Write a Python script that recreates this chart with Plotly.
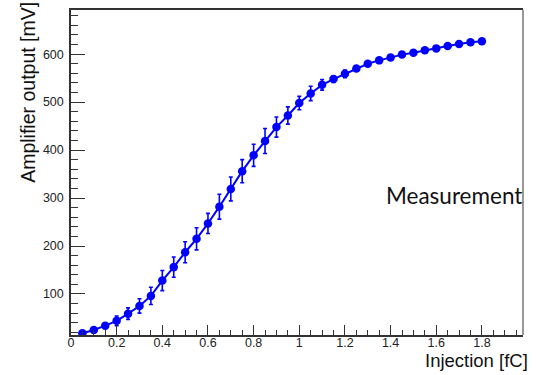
import plotly.graph_objects as go

injection_fc = [0.05, 0.10, 0.15, 0.20, 0.25, 0.30, 0.35, 0.40, 0.45, 0.50,
                0.55, 0.60, 0.65, 0.70, 0.75, 0.80, 0.85, 0.90, 0.95, 1.00,
                1.05, 1.10, 1.15, 1.20, 1.25, 1.30, 1.35, 1.40, 1.45, 1.50,
                1.55, 1.60, 1.65, 1.70, 1.75, 1.80]
output_mv = [18, 25, 34, 44, 59, 75, 96, 128, 156, 187,
             215, 247, 282, 319, 356, 389, 419, 448, 472, 498,
             518, 536, 548, 559, 570, 580, 587, 593, 599, 603,
             608, 612, 617, 621, 625, 627]
error_mv = [4, 5, 6, 10, 12, 15, 18, 21, 21, 22,
            23, 21, 26, 25, 24, 23, 26, 21, 18, 14,
            15, 11, 7, 8, 5, 3, 3, 3, 3, 3,
            3, 3, 3, 3, 3, 3]

x_title = "Injection [fC]"
y_title = "Amplifier output [mV]"
label_text = "Measurement"

BLUE = "#0000ff"
AX = "#333333"
TICKFONT = dict(family="Liberation Sans, Arial, sans-serif", size=12.5, color="#222222")

fig = go.Figure()
fig.add_trace(go.Scatter(
    x=injection_fc, y=output_mv, mode="lines+markers",
    line=dict(color=BLUE, width=2),
    marker=dict(color=BLUE, size=8.5),
    error_y=dict(type="data", array=error_mv, visible=True,
                 color=BLUE, thickness=1.6, width=2),
    showlegend=False,
))

fig.update_layout(
    width=536, height=375,
    margin=dict(l=71, r=13, t=8, b=40),
    paper_bgcolor="white", plot_bgcolor="white",
    xaxis=dict(range=[0, 1.98], dtick=0.2, tick0=0, ticks="inside", ticklen=10,
               tickcolor=AX, tickwidth=1, showgrid=False, zeroline=False,
               showline=True, linecolor=AX, linewidth=1.5, mirror=True,
               tickfont=TICKFONT, tickformat="~g", ticklabelstandoff=-5,
               minor=dict(dtick=0.05, ticks="inside", ticklen=5, tickcolor=AX, showgrid=False)),
    yaxis=dict(range=[14.5, 692], dtick=100, tick0=0, ticks="inside", ticklen=14,
               tickcolor=AX, tickwidth=1, showgrid=False, zeroline=False,
               showline=True, linecolor=AX, linewidth=1.5,
               tickfont=TICKFONT, ticklabelstandoff=3,
               minor=dict(dtick=20, ticks="inside", ticklen=7, tickcolor=AX, showgrid=False)),
)

# right frame edge (lighter gray)
fig.add_shape(type="line", xref="paper", yref="paper", x0=1, x1=1, y0=0, y1=1,
              line=dict(color="#999999", width=2))

fig.add_annotation(text=y_title, xref="paper", yref="paper", x=-0.095, y=1.03,
                   xanchor="center", yanchor="top", textangle=-90, showarrow=False,
                   font=dict(family="Liberation Sans, Arial, sans-serif", size=19.5, color="#111111"))
fig.add_annotation(text=x_title, xref="paper", yref="paper", x=1.0155, y=-0.078,
                   xanchor="right", yanchor="middle", showarrow=False,
                   font=dict(family="Liberation Sans, Arial, sans-serif", size=18.5, color="#111111"))
fig.add_annotation(text=label_text, xref="paper", yref="paper", x=0.693, y=0.43,
                   xanchor="left", yanchor="middle", showarrow=False,
                   font=dict(family="Lato, sans-serif", size=22.5, color="#111111"))

fig.write_html("out.html", post_script="document.body.style.margin='0';",
               config={"displayModeBar": False})
